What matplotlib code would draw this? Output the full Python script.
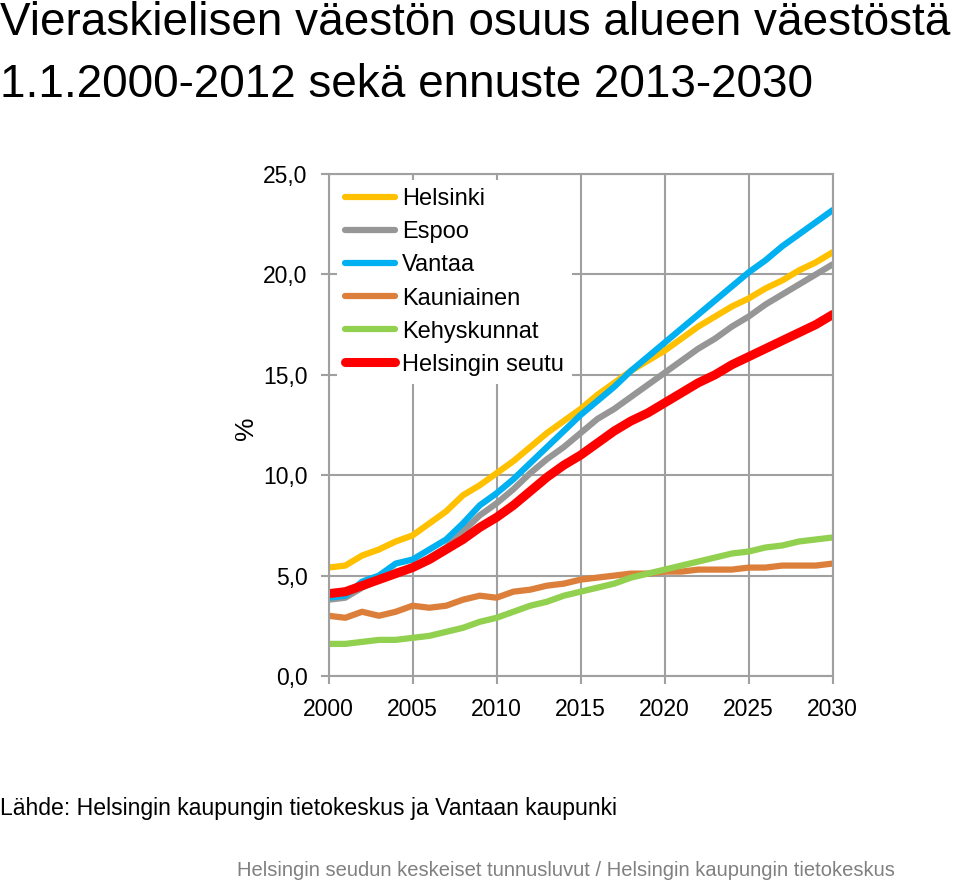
import matplotlib
matplotlib.use("Agg")
import matplotlib.pyplot as plt
import numpy as np

plt.rcParams['font.family'] = ['Liberation Sans', 'DejaVu Sans']

years = list(range(2000, 2031))

helsinki = [5.4, 5.5, 6.0, 6.3, 6.7, 7.0, 7.6, 8.2, 9.0, 9.5, 10.1, 10.7, 11.4, 12.1, 12.7,
            13.3, 14.0, 14.6, 15.2, 15.7, 16.2, 16.8, 17.4, 17.9, 18.4, 18.8, 19.3, 19.7,
            20.2, 20.6, 21.1]
espoo = [3.8, 3.9, 4.4, 4.8, 5.2, 5.4, 5.9, 6.4, 7.2, 8.0, 8.6, 9.3, 10.1, 10.8, 11.4,
         12.1, 12.8, 13.3, 13.9, 14.5, 15.1, 15.7, 16.3, 16.8, 17.4, 17.9, 18.5, 19.0,
         19.5, 20.0, 20.5]
vantaa = [3.9, 4.0, 4.7, 5.0, 5.6, 5.8, 6.3, 6.8, 7.6, 8.5, 9.1, 9.8, 10.6, 11.4, 12.2,
          13.0, 13.7, 14.4, 15.2, 15.9, 16.6, 17.3, 18.0, 18.7, 19.4, 20.1, 20.7, 21.4,
          22.0, 22.6, 23.2]
kauniainen = [3.0, 2.9, 3.2, 3.0, 3.2, 3.5, 3.4, 3.5, 3.8, 4.0, 3.9, 4.2, 4.3, 4.5, 4.6,
              4.8, 4.9, 5.0, 5.1, 5.1, 5.2, 5.2, 5.3, 5.3, 5.3, 5.4, 5.4, 5.5, 5.5, 5.5, 5.6]
kehyskunnat = [1.6, 1.6, 1.7, 1.8, 1.8, 1.9, 2.0, 2.2, 2.4, 2.7, 2.9, 3.2, 3.5, 3.7, 4.0,
               4.2, 4.4, 4.6, 4.9, 5.1, 5.3, 5.5, 5.7, 5.9, 6.1, 6.2, 6.4, 6.5, 6.7, 6.8, 6.9]
seutu = [4.1, 4.2, 4.5, 4.8, 5.1, 5.4, 5.8, 6.3, 6.8, 7.4, 7.9, 8.5, 9.2, 9.9, 10.5,
         11.0, 11.6, 12.2, 12.7, 13.1, 13.6, 14.1, 14.6, 15.0, 15.5, 15.9, 16.3, 16.7,
         17.1, 17.5, 18.0]

series = [
    ("Helsinki", helsinki, "#FFC000", 4.5),
    ("Espoo", espoo, "#969696", 4.5),
    ("Vantaa", vantaa, "#00B0F0", 4.5),
    ("Kauniainen", kauniainen, "#DC7F3B", 4.5),
    ("Kehyskunnat", kehyskunnat, "#92D050", 4.5),
    ("Helsingin seutu", seutu, "#FF0000", 6.5),
]

xticks = [2000, 2005, 2010, 2015, 2020, 2025, 2030]
yticks = [0, 5, 10, 15, 20, 25]

fig = plt.figure(figsize=(9.6, 8.83), dpi=100)
ax = fig.add_axes([0.3422, 0.2344, 0.5252, 0.5686])

for name, vals, col, lw in series:
    ax.plot(years, vals, color=col, lw=lw, label=name, solid_capstyle='round')

ax.set_xlim(2000, 2030)
ax.set_ylim(0, 25)
ax.set_xticks(xticks)
ax.set_yticks(yticks)
ax.set_yticklabels([f"{v:.1f}".replace('.', ',') for v in yticks])
ax.set_axisbelow(True)
ax.grid(True, color='#A0A0A0', lw=1.5)
for s in ax.spines.values():
    s.set_color('#A0A0A0')
    s.set_linewidth(1.5)
ax.tick_params(axis='both', direction='out', length=6, width=1.5, color='#A0A0A0',
               labelsize=16.5, labelcolor='black')
ax.tick_params(axis='y', pad=9)
ax.tick_params(axis='x', pad=10)

ax.set_ylabel('%', fontsize=19)
ax.yaxis.set_label_coords(-0.14, 0.494)

leg = ax.legend(loc='upper left', bbox_to_anchor=(0.017, 0.988), borderaxespad=0,
                fontsize=17, frameon=True, fancybox=False, framealpha=1,
                edgecolor='none', handlelength=2.1, handletextpad=0.3,
                labelspacing=0.47, borderpad=0.35)

fig.text(0.0, 1 - 35 / 883, "Vieraskielisen väestön osuus alueen väestöstä",
         fontsize=33, va='baseline', ha='left')
fig.text(0.0, 1 - 97 / 883, "1.1.2000-2012 sekä ennuste 2013-2030",
         fontsize=33, va='baseline', ha='left')
fig.text(0.0, 1 - 809 / 883, "Lähde: Helsingin kaupungin tietokeskus ja Vantaan kaupunki",
         fontsize=16.6, va='center', ha='left')
fig.text(566 / 960, 1 - 871 / 883,
         "Helsingin seudun keskeiset tunnusluvut / Helsingin kaupungin tietokeskus",
         fontsize=14.5, va='center', ha='center', color='#808080')

fig.savefig("out.png", dpi=100)
